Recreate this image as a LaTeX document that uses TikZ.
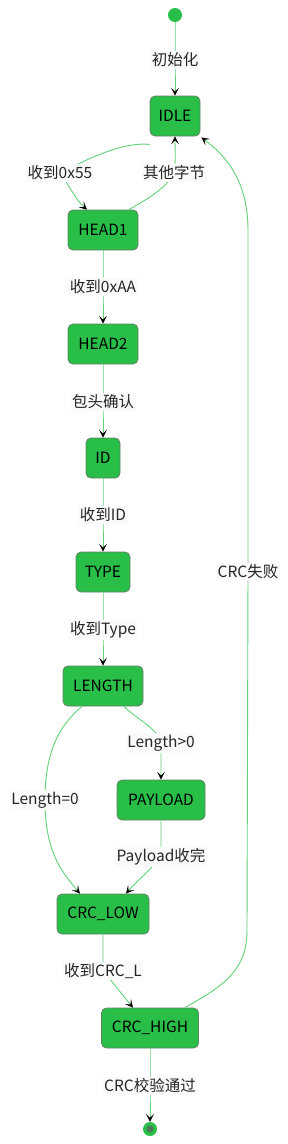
\documentclass[tikz,border=0pt]{standalone}
\usepackage{fontspec}
\setmainfont{Noto Sans CJK SC}
\usetikzlibrary{arrows.meta}
\definecolor{nodefill}{RGB}{40,190,72}
\definecolor{nodeline}{RGB}{100,130,100}
\definecolor{edgecol}{RGB}{95,210,120}
\definecolor{lblbg}{RGB}{250,250,250}
\definecolor{endcore}{RGB}{80,120,90}
\tikzset{
  stbox/.style={draw=nodeline, line width=0.8pt, fill=nodefill, rounded corners=5pt,
    minimum height=40pt, inner sep=0pt, font=\fontsize{15.5}{17}\selectfont, text=black},
  edge/.style={draw=edgecol, line width=0.9pt, -{Stealth[black,length=8pt,width=8pt,inset=4pt]}},
  lbl/.style={fill=lblbg, inner sep=1.5pt, font=\fontsize{15.5}{17}\selectfont, text=black!85},
  dot/.style={circle, fill=nodefill, minimum size=14pt, inner sep=0pt},
}
\begin{document}
\begin{tikzpicture}[x=1pt,y=-1pt]
\useasboundingbox (0,0) rectangle (288,1144);
\node[dot] (start) at (175,15) {};
\node[stbox, minimum width=50pt] (idle) at (175,116) {IDLE};
\node[stbox, minimum width=70pt] (head1) at (103,230) {HEAD1};
\node[stbox, minimum width=70pt] (head2) at (103,344) {HEAD2};
\node[stbox, minimum width=34pt] (id) at (103,458) {ID};
\node[stbox, minimum width=54pt] (type) at (103,572) {TYPE};
\node[stbox, minimum width=80pt] (length) at (103,686) {LENGTH};
\node[stbox, minimum width=88pt] (payload) at (161,800) {PAYLOAD};
\node[stbox, minimum width=92pt] (crclow) at (103,914) {CRC\_LOW};
\node[stbox, minimum width=97pt] (crchigh) at (150,1028) {CRC\_HIGH};
\node[circle, fill=nodefill, minimum size=14pt, inner sep=0pt] (end) at (150,1129) {};
\node[circle, fill=endcore, minimum size=7pt, inner sep=0pt] (endcore) at (end) {};

\draw[edge] (start) -- (175,60) node[lbl] {初始化} -- (idle);
\draw[edge] ([yshift=-8pt]idle.south west) .. controls (125,142) and (95,155) .. (60,173) node[lbl] {收到0x55}
  .. controls (72,190) and (76,200) .. ([xshift=-16pt]head1.north);
\draw[edge] ([xshift=26pt]head1.north) .. controls (145,200) and (165,190) .. (174,173) node[lbl] {其他字节}
  .. controls (176,160) and (175,150) .. (idle.south);
\draw[edge] (head1) -- (103,287) node[lbl] {收到0xAA} -- (head2);
\draw[edge] (head2) -- (103,402) node[lbl] {包头确认} -- (id);
\draw[edge] (id) -- (103,515) node[lbl] {收到ID} -- (type);
\draw[edge] (type) -- (103,630) node[lbl] {收到Type} -- (length);
\draw[edge] ([xshift=21pt]length.south) .. controls (135,718) and (160,730) .. (161,743) node[lbl] {Length>0}
  -- (payload.north);
\draw[edge] ([xshift=-21pt]length.south) .. controls (60,725) and (45,750) .. (45,800) node[lbl] {Length=0}
  .. controls (45,850) and (60,870) .. ([xshift=-23pt]crclow.north);
\draw[edge] (payload.south) .. controls (161,835) and (161,845) .. (161,857) node[lbl] {Payload收完}
  .. controls (150,870) and (135,883) .. ([xshift=23pt]crclow.north);
\draw[edge] (crclow.south) .. controls (103,945) and (103,960) .. (103,971) node[lbl] {收到CRC\_L}
  .. controls (115,985) and (125,998) .. ([xshift=-17pt]crchigh.north);
\draw[edge] ([xshift=35pt]crchigh.north) .. controls (225,985) and (247,970) .. (247,930)
  -- (248,572) node[lbl] {CRC失败} -- (248,230)
  .. controls (248,180) and (225,155) .. ([xshift=1pt,yshift=-1pt]idle.south east);
\draw[edge] (crchigh) -- (150,1086) node[lbl] {CRC校验通过} -- (end);
\end{tikzpicture}
\end{document}
